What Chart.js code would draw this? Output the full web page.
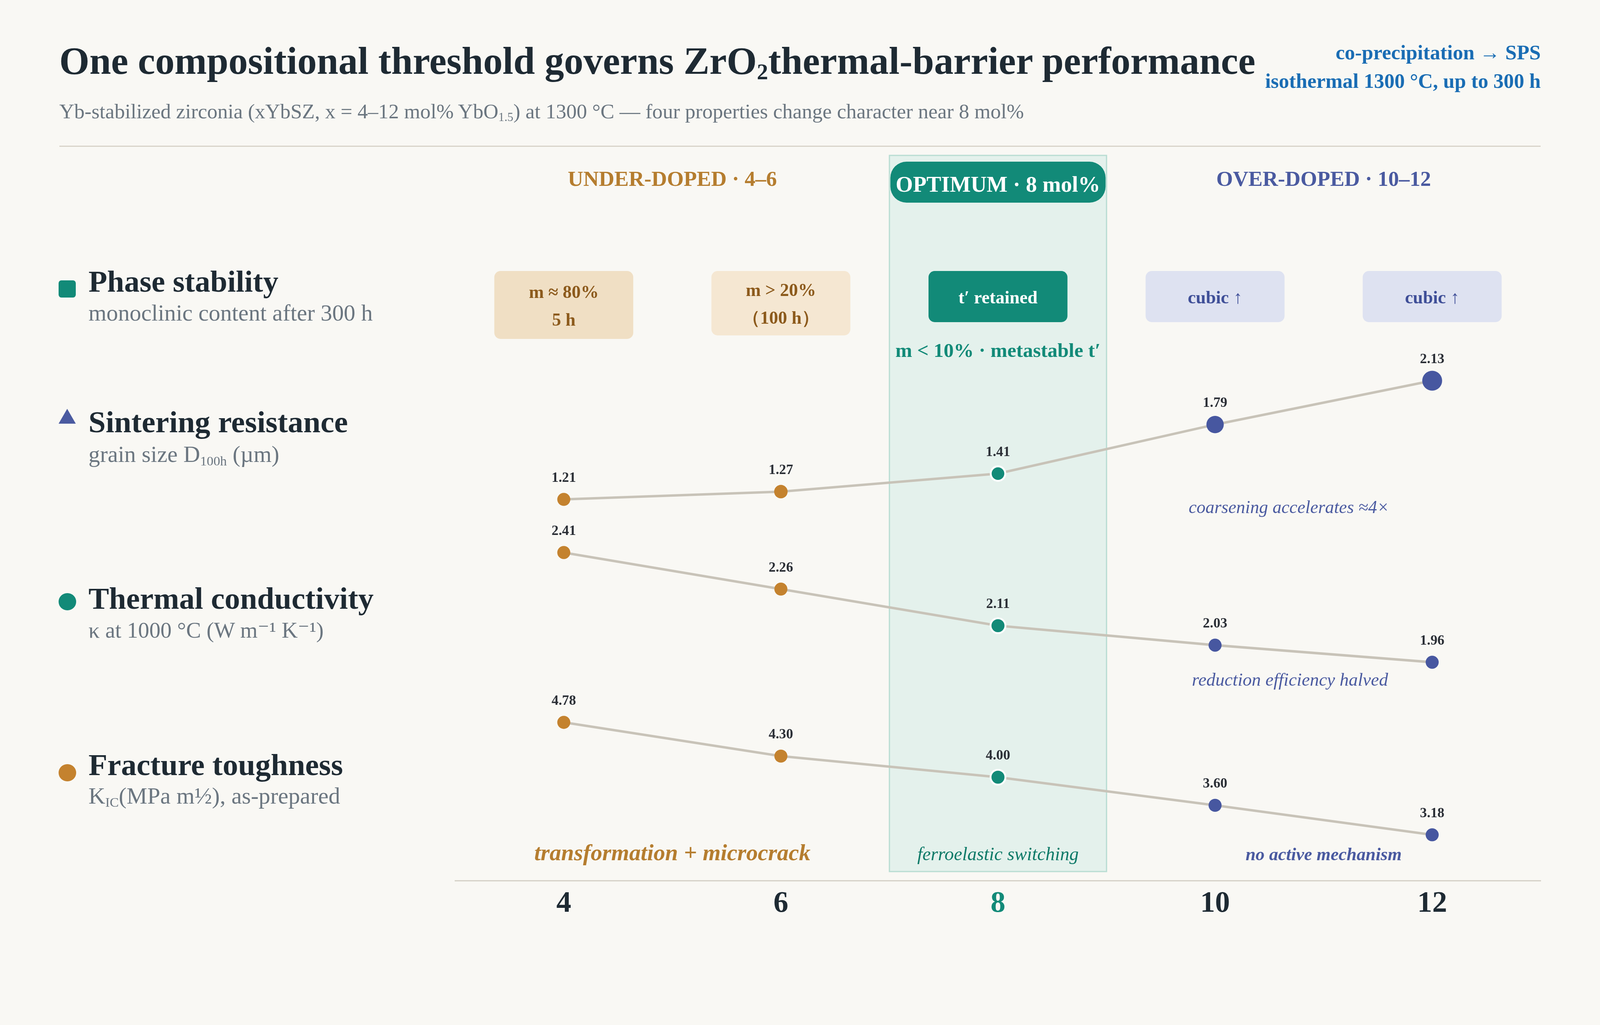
<!DOCTYPE html>
<html lang="en">
<head>
<meta charset="UTF-8">
<title>xYbSZ compositional threshold</title>
<script src="https://cdn.jsdelivr.net/npm/chart.js@4.4.1/dist/chart.umd.min.js"></script>
<style>
  html, body { margin: 0; padding: 0; width: 100%; height: 100%; background: #f9f8f4; }
  body { position: relative; overflow: hidden; font-family: "Liberation Serif", "DejaVu Serif", serif; }
  #chart { position: absolute; left: 0; top: 0; }
  .t { position: absolute; white-space: nowrap; line-height: 1; }
  .t sub { font-size: 58%; vertical-align: baseline; position: relative; top: 0.24em; line-height: 0; }
  .title { font-weight: bold; color: #1e2a33; }
  .subtitle { color: #6b7680; }
  .note { font-weight: bold; color: #1a6db4; text-align: right; }
  .lg { font-weight: bold; color: #1e2a33; }
  .lgs { color: #6b7680; }
  .mk, .rule { position: absolute; }
</style>
</head>
<body>
<canvas id="chart"></canvas>

<script>
    // dopant content, mol% YbO1.5
    const dopant = [4, 6, 8, 10, 12];
    const tickLabels = ['4', '6', '8', '10', '12'];
    // grain size D100h (um)
    const grainSize = [1.21, 1.27, 1.41, 1.79, 2.13];
    // thermal conductivity at 1000 C (W/m/K)
    const conductivity = [2.41, 2.26, 2.11, 2.03, 1.96];
    // fracture toughness KIC (MPa m^1/2)
    const toughness = [4.78, 4.30, 4.00, 3.60, 3.18];
    // phase stability notes per composition
    const phaseNotes = [['m ≈ 80%', '5 h'], ['m > 20%', '（100 h）'], ['t′ retained'], ['cubic ↑'], ['cubic ↑']];
    const regionLabels = ['UNDER-DOPED · 4–6', 'OPTIMUM · 8 mol%', 'OVER-DOPED · 10–12'];
    const regionCenters = [5, 8, 11];
    const optimumRange = [7, 9];
    const mechanismNotes = ['transformation + microcrack', 'ferroelastic switching', 'no active mechanism'];

    // layout was drawn for a 5156 x 2625 page; scale to whatever window we get
    const W = window.innerWidth, H = window.innerHeight;
    const sx = W / 5156, sy = H / 2625, k = Math.min(sx, sy);
    const X = v => v * sx, Y = v => v * sy;

    const FONT = '"Liberation Serif", "DejaVu Serif", serif';
    const ORANGE = '#c4822e', TEAL = '#128a78', BLUE = '#4757a0', INK = '#1e2a33';

    // ---------- header and left legend (html text) ----------
    function addText(cls, html, o) {
        const el = document.createElement('div');
        el.className = 't ' + cls;
        el.innerHTML = html;
        document.body.appendChild(el);
        let fs = o.size * k;
        el.style.fontSize = fs + 'px';
        if (o.width) {
            fs = fs * X(o.width) / el.getBoundingClientRect().width;
            el.style.fontSize = fs + 'px';
        }
        el.style.top = (Y(o.baseline) - 0.8375 * fs) + 'px';
        if (o.right != null) el.style.right = X(o.right) + 'px';
        else el.style.left = X(o.left) + 'px';
    }

    function addMark(css) {
        const el = document.createElement('div');
        el.className = 'mk';
        Object.assign(el.style, css);
        document.body.appendChild(el);
    }

    addText('title', 'One compositional threshold governs ZrO<sub>2</sub>thermal-barrier performance', { left: 191, baseline: 189, size: 131, width: 3854 });
    addText('subtitle', 'Yb-stabilized zirconia (xYbSZ, x = 4–12 mol% YbO<sub>1.5</sub>) at 1300 °C — four properties change character near 8 mol%', { left: 191, baseline: 303, size: 64, width: 3108 });
    addText('note', 'co-precipitation → SPS', { right: 191, baseline: 152, size: 63, width: 661 });
    addText('note', 'isothermal 1300 °C, up to 300 h', { right: 191, baseline: 225, size: 63, width: 888 });

    const rule = document.createElement('div');
    rule.className = 'rule';
    Object.assign(rule.style, { left: X(191) + 'px', top: Y(373) + 'px', width: X(4774) + 'px', height: Math.max(2, 4 * k) + 'px', background: '#d8d3c9' });
    document.body.appendChild(rule);

    addMark({ left: X(189) + 'px', top: (Y(740) - 27.5 * k) + 'px', width: 55 * k + 'px', height: 55 * k + 'px', borderRadius: 9 * k + 'px', background: TEAL });
    addText('lg', 'Phase stability', { left: 285, baseline: 748, size: 99, width: 612 });
    addText('lgs', 'monoclinic content after 300 h', { left: 285, baseline: 822, size: 74, width: 916 });

    addMark({ left: X(189) + 'px', top: (Y(1066) - 24 * k) + 'px', width: 0, height: 0, borderLeft: 28 * k + 'px solid transparent', borderRight: 28 * k + 'px solid transparent', borderBottom: 48 * k + 'px solid #4a5aa0' });
    addText('lg', 'Sintering resistance', { left: 285, baseline: 1107, size: 99, width: 836 });
    addText('lgs', 'grain size D<sub>100h</sub> (µm)', { left: 285, baseline: 1184, size: 74, width: 615 });

    addMark({ left: (X(217) - 28 * k) + 'px', top: (Y(1541) - 28 * k) + 'px', width: 56 * k + 'px', height: 56 * k + 'px', borderRadius: '50%', background: TEAL });
    addText('lg', 'Thermal conductivity', { left: 285, baseline: 1560, size: 99, width: 919 });
    addText('lgs', 'κ at 1000 °C (W m⁻¹ K⁻¹)', { left: 285, baseline: 1633, size: 74, width: 758 });

    addMark({ left: (X(217) - 28 * k) + 'px', top: (Y(1979) - 28 * k) + 'px', width: 56 * k + 'px', height: 56 * k + 'px', borderRadius: '50%', background: ORANGE });
    addText('lg', 'Fracture toughness', { left: 285, baseline: 1985, size: 99, width: 820 });
    addText('lgs', 'K<sub>IC</sub>(MPa m½), as-prepared', { left: 285, baseline: 2059, size: 74, width: 811 });

    // ---------- chart ----------
    function regionColor(x) {
        if (x < 8) return ORANGE;
        if (x > 8) return BLUE;
        return TEAL;
    }

    // draw text; if o.width is given the font is fitted to that width (5156-page px)
    function text(ctx, s, x, y, size, color, o) {
        o = o || {};
        const face = (o.style || '') + ' ' + (o.weight || 'normal') + ' ';
        ctx.save();
        let fs = size * k;
        ctx.font = face + fs + 'px ' + FONT;
        if (o.width) {
            fs = fs * X(o.width) / ctx.measureText(s).width;
            ctx.font = face + fs + 'px ' + FONT;
        }
        ctx.fillStyle = color;
        ctx.textAlign = o.align || 'center';
        ctx.textBaseline = 'alphabetic';
        ctx.fillText(s, x, y);
        ctx.restore();
    }

    function series(values, axis) {
        return {
            data: dopant.map((x, i) => ({ x: x, y: values[i] })),
            yAxisID: axis,
            borderColor: '#c8c3b8',
            borderWidth: 8 * k,
            tension: 0,
            pointBackgroundColor: c => regionColor(dopant[c.dataIndex]),
            pointBorderColor: c => c.dataIndex === 2 ? '#ffffff' : regionColor(dopant[c.dataIndex]),
            pointBorderWidth: c => c.dataIndex === 2 ? 6 * k : 0,
            pointRadius: c => (c.dataIndex === 2 ? 24 : 21) * k
        };
    }

    const grainSet = series(grainSize, 'yG');
    // marker grows with grain size
    grainSet.pointRadius = c => (21 + (grainSize[c.dataIndex] - 1.21) * 12) * k;

    const overlay = {
        id: 'overlay',
        beforeDatasetsDraw(chart) {
            const { ctx, chartArea: a, scales: { x } } = chart;
            const bx0 = x.getPixelForValue(optimumRange[0]);
            const bx1 = x.getPixelForValue(optimumRange[1]);
            const bandBottom = a.bottom - Y(24);

            // optimum band
            ctx.save();
            ctx.fillStyle = '#e4f1ec';
            ctx.fillRect(bx0, a.top, bx1 - bx0, bandBottom - a.top);
            ctx.strokeStyle = '#b9ddd3';
            ctx.lineWidth = 4 * k;
            ctx.strokeRect(bx0, a.top, bx1 - bx0, bandBottom - a.top);
            ctx.restore();

            // region headers
            const cx = regionCenters.map(v => x.getPixelForValue(v));
            text(ctx, regionLabels[0], cx[0], a.top + Y(78), 68, '#b57d2f', { weight: 'bold', width: 674 });
            text(ctx, regionLabels[2], cx[2], a.top + Y(78), 68, '#4a5aa0', { weight: 'bold', width: 692 });
            ctx.save();
            ctx.fillStyle = TEAL;
            ctx.beginPath();
            ctx.roundRect(bx0 + 3 * k, a.top + Y(16), bx1 - bx0 - 6 * k, Y(105), Math.min(Y(52), X(52)));
            ctx.fill();
            ctx.restore();
            text(ctx, regionLabels[1], cx[1], a.top + Y(93), 68, '#ffffff', { weight: 'bold', width: 659 });

            // phase stability boxes
            const boxFill = ['#f0dfc4', '#f5e7d2', TEAL, '#dee2f1', '#dee2f1'];
            const boxInk = ['#8c5a1c', '#8c5a1c', '#ffffff', '#3f4f98', '#3f4f98'];
            const boxH = [174, 165, 131, 131, 131];
            const top = a.top + Y(296);
            dopant.forEach((d, i) => {
                const l = x.getPixelForValue(d - 0.64), r = x.getPixelForValue(d + 0.64);
                ctx.save();
                ctx.fillStyle = boxFill[i];
                ctx.beginPath();
                ctx.roundRect(l, top, r - l, Y(boxH[i]), 20 * k);
                ctx.fill();
                ctx.restore();
                const lines = phaseNotes[i];
                const mid = top + Y(boxH[i]) / 2;
                lines.forEach((s, j) => {
                    const y = mid + Y(-(lines.length - 1) * 35.5 + j * 71 + 17);
                    text(ctx, s, (l + r) / 2, y, 58, boxInk[i], { weight: 'bold' });
                });
            });
            text(ctx, 'm < 10% · metastable t′', cx[1], a.top + Y(516), 65, TEAL, { weight: 'bold', width: 661 });
        },
        afterDatasetsDraw(chart) {
            const { ctx, scales } = chart;
            const x = scales.x;

            // value labels above each point
            chart.data.datasets.forEach((ds, di) => {
                chart.getDatasetMeta(di).data.forEach((pt, i) => {
                    text(ctx, ds.data[i].y.toFixed(2), pt.x, pt.y - Y(45), 45, '#2b2f36', { weight: 'bold' });
                });
            });

            // trend notes for the over-doped side
            text(ctx, 'coarsening accelerates ≈4×', x.getPixelForValue(10.68), scales.yG.getPixelForValue(1.104), 56, '#4a5aa0', { style: 'italic', width: 646 });
            text(ctx, 'reduction efficiency halved', x.getPixelForValue(10.69), scales.yK.getPixelForValue(1.864), 56, '#4a5aa0', { style: 'italic', width: 632 });

            // toughening mechanism per region
            const yM = scales.yT.getPixelForValue(2.82);
            text(ctx, mechanismNotes[0], x.getPixelForValue(regionCenters[0]), yM, 74, '#b57d2f', { style: 'italic', weight: 'bold', width: 890 });
            text(ctx, mechanismNotes[1], x.getPixelForValue(regionCenters[1]), yM, 60, '#0e7a68', { style: 'italic', width: 520 });
            text(ctx, mechanismNotes[2], x.getPixelForValue(regionCenters[2]), yM, 58, '#4a5aa0', { style: 'italic', weight: 'bold', width: 503 });
        }
    };

    const canvas = document.getElementById('chart');
    canvas.width = W;
    canvas.height = H;

    new Chart(canvas, {
        type: 'line',
        data: {
            datasets: [
                grainSet,
                series(conductivity, 'yK'),
                series(toughness, 'yT')
            ]
        },
        options: {
            responsive: false,
            animation: false,
            devicePixelRatio: 1,
            layout: { padding: { left: X(1467), right: X(191), top: Y(398), bottom: 0 } },
            plugins: { legend: { display: false }, tooltip: { enabled: false }, title: { display: false } },
            scales: {
                x: {
                    type: 'linear',
                    min: 3,
                    max: 13,
                    afterBuildTicks: s => { s.ticks = dopant.map(v => ({ value: v })); },
                    afterFit: s => { s.height = Y(369); },
                    grid: { display: true, color: 'transparent', drawTicks: false },
                    border: { display: true, color: '#d6d2c8', width: 4 * k },
                    ticks: {
                        padding: Y(14),
                        callback: (v, i) => tickLabels[i],
                        color: c => c.tick && c.tick.value === 8 ? TEAL : INK,
                        font: { family: FONT, size: 96 * k, weight: 'bold' }
                    }
                },
                yG: { display: false, min: -1.747, max: 3.876 },
                yK: { display: false, min: 1.063, max: 4.039 },
                yT: { display: false, min: 2.524, max: 12.847 }
            }
        },
        plugins: [overlay]
    });
</script>
</body>
</html>
